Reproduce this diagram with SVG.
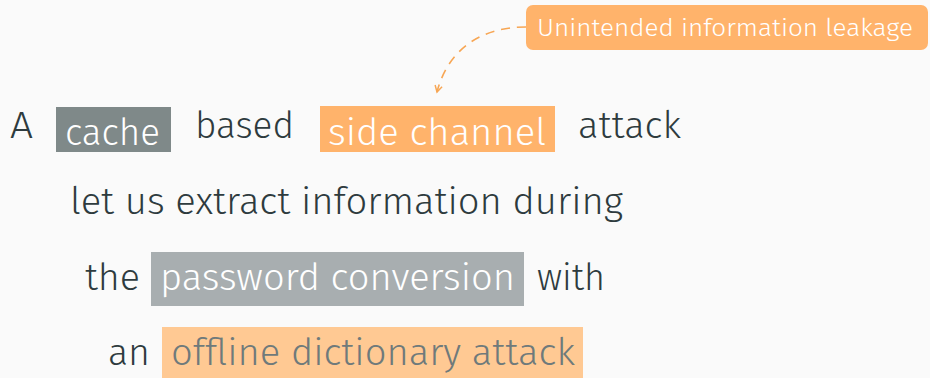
<svg xmlns="http://www.w3.org/2000/svg" width="930" height="378" viewBox="0 0 930 378">
  <style>
    .t { font-family: "Fira Sans", "Open Sans", "Noto Sans", sans-serif; font-weight: 300; font-size: 37px; }
    .dark { fill: #2e3b3e; }
    .white { fill: #ffffff; }
    .muted { fill: #6f7a7b; }
    .callout { font-family: "Fira Sans", "Open Sans", "Noto Sans", sans-serif; font-weight: 300; font-size: 25px; fill: #ffffff; }
    .conn { fill: none; stroke: #f7a654; stroke-width: 1.6; }
  </style>
  <defs>
    <marker id="arrow" viewBox="0 0 10 10" refX="8" refY="5" markerWidth="9" markerHeight="9" orient="auto" markerUnits="userSpaceOnUse">
      <path d="M1,1 L8,5 L1,9" fill="none" stroke="#f7a654" stroke-width="1.6"/>
    </marker>
  </defs>
  <rect width="930" height="378" fill="#fafafa"/>

  <!-- connectors -->
  <g id="connectors">
    <path class="conn" d="M526,27 C480,27 448,50 437,92" stroke-dasharray="9,7" marker-end="url(#arrow)"/>
  </g>

  <!-- callout -->
  <g id="callout">
    <rect x="526" y="5" width="402" height="45" rx="7" fill="#ffb36b"/>
    <text class="callout" x="537" y="36" textLength="376" lengthAdjust="spacingAndGlyphs">Unintended information leakage</text>
  </g>

  <!-- line 1 -->
  <g id="line1">
    <text class="t dark" x="10" y="138" textLength="23" lengthAdjust="spacingAndGlyphs">A</text>
    <g id="cache">
      <rect x="56" y="107" width="115" height="45" fill="#7f8989"/>
      <text class="t white" x="65" y="145" textLength="95" lengthAdjust="spacingAndGlyphs">cache</text>
    </g>
    <text class="t dark" x="195" y="138" textLength="99" lengthAdjust="spacingAndGlyphs">based</text>
    <g id="side-channel">
      <rect x="320" y="106" width="235" height="46" fill="#ffb36b"/>
      <text class="t white" x="328" y="145" textLength="218" lengthAdjust="spacingAndGlyphs">side channel</text>
    </g>
    <text class="t dark" x="578" y="138" textLength="103" lengthAdjust="spacingAndGlyphs">attack</text>
  </g>

  <!-- line 2 -->
  <g id="line2">
    <text class="t dark" x="70" y="214" textLength="553" lengthAdjust="spacingAndGlyphs">let us extract information during</text>
  </g>

  <!-- line 3 -->
  <g id="line3">
    <text class="t dark" x="85" y="290" textLength="55" lengthAdjust="spacingAndGlyphs">the</text>
    <g id="password-conversion">
      <rect x="151" y="252" width="373" height="54" fill="#a8aeb0"/>
      <text class="t white" x="160" y="290" textLength="355" lengthAdjust="spacingAndGlyphs">password conversion</text>
    </g>
    <text class="t dark" x="537" y="290" textLength="68" lengthAdjust="spacingAndGlyphs">with</text>
  </g>

  <!-- line 4 -->
  <g id="line4">
    <text class="t dark" x="108" y="365" textLength="42" lengthAdjust="spacingAndGlyphs">an</text>
    <g id="offline-dictionary-attack">
      <rect x="162" y="327" width="421" height="51" fill="#ffc993"/>
      <text class="t muted" x="171" y="365" textLength="404" lengthAdjust="spacingAndGlyphs">offline dictionary attack</text>
    </g>
  </g>
</svg>
